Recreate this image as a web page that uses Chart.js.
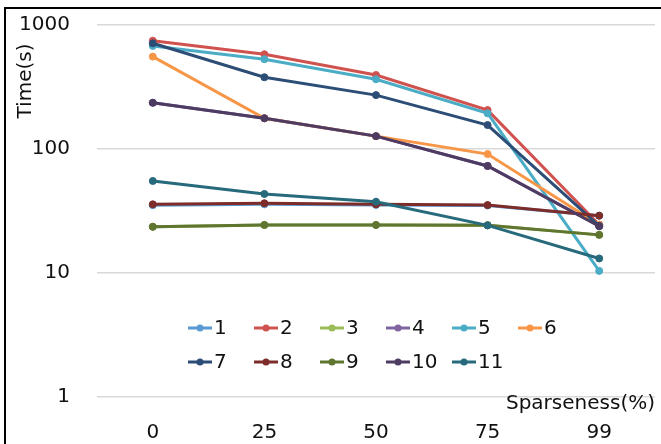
<!DOCTYPE html>
<html>
<head>
<meta charset="utf-8">
<script src="https://cdn.jsdelivr.net/npm/chart.js@4"></script>
<style>
  html, body { margin: 0; padding: 0; background: #fff; }
  #wrap { position: relative; width: 661px; height: 444px; }
</style>
</head>
<body>
<div id="wrap"><canvas id="chart" width="661" height="444"></canvas></div>
<script>
// categories and tick values
const sparseness = ['0', '25', '50', '75', '99'];
const timeTicks = [1, 10, 100, 1000];
const seriesNames = ['1', '2', '3', '4', '5', '6', '7', '8', '9', '10', '11'];

// time in seconds per series
const s1 = [35.2, 35.8, 35.4, 35, 29];
const s2 = [747, 581, 395, 206, 24.5];
const s3 = [23.6, 24.4, 24.4, 24.3, 20.3];
const s4 = [236, 177, 127, 73, 24];
const s5 = [678, 530, 365, 194, 10.4];
const s6 = [556, 177, 127, 91, 24.5];
const s7 = [712, 379, 272, 156, 24];
const s8 = [35.8, 36.5, 35.8, 35.3, 29];
const s9 = [23.6, 24.4, 24.4, 24.3, 20.3];
const s10 = [236, 177, 127, 73, 23.8];
const s11 = [55.2, 43.4, 37.6, 24.2, 13.1];

const seriesValues = [s1, s2, s3, s4, s5, s6, s7, s8, s9, s10, s11];
const seriesColors = ['#5B9BD5', '#D0524E', '#9BBB59', '#8064A2', '#4BACC6', '#F79646',
                      '#2C4D75', '#7D2C2A', '#5F7530', '#4D3B62', '#276A7C'];

const FONT = 'DejaVu Sans';
Chart.defaults.font.family = FONT;
Chart.defaults.font.size = 20;
Chart.defaults.color = '#111';

const datasets = seriesValues.map((vals, i) => ({
    label: seriesNames[i],
    data: vals,
    borderColor: seriesColors[i],
    backgroundColor: seriesColors[i],
    borderWidth: 3,
    pointRadius: 3.5,
    pointBorderWidth: 1,
    tension: 0,
    order: seriesValues.length - i
}));

// white page, frame, axis title, x label and the legend inside the plot
const extras = {
    id: 'extras',
    beforeDraw(chart) {
        const ctx = chart.ctx;
        ctx.save();
        ctx.fillStyle = '#fff';
        ctx.fillRect(0, 0, chart.width, chart.height);
        ctx.restore();
    },
    afterDraw(chart) {
        const ctx = chart.ctx;
        ctx.save();
        ctx.strokeStyle = '#000';
        ctx.lineWidth = 2;
        ctx.beginPath();
        ctx.moveTo(5, chart.height);
        ctx.lineTo(5, 8);
        ctx.lineTo(chart.width, 8);
        ctx.stroke();

        ctx.fillStyle = '#111';
        ctx.font = '20px "' + FONT + '"';
        ctx.textBaseline = 'middle';

        ctx.save();
        ctx.translate(26, 81);
        ctx.rotate(-Math.PI / 2);
        ctx.textAlign = 'center';
        ctx.fillText('Time(s)', 0, 0);
        ctx.restore();

        ctx.textAlign = 'right';
        ctx.fillText('Sparseness(%)', 655, 404);

        ctx.textAlign = 'left';
        chart.data.datasets.forEach((ds, i) => {
            const row = i < 6 ? 0 : 1;
            const col = i % 6;
            const x0 = 188 + col * 66;
            const y = 328 + row * 34;
            ctx.strokeStyle = ds.borderColor;
            ctx.lineWidth = 3;
            ctx.beginPath();
            ctx.moveTo(x0, y);
            ctx.lineTo(x0 + 24, y);
            ctx.stroke();
            ctx.fillStyle = ds.borderColor;
            ctx.beginPath();
            ctx.arc(x0 + 12, y, 3.5, 0, Math.PI * 2);
            ctx.fill();
            ctx.fillStyle = '#111';
            ctx.fillText(ds.label, x0 + 26, y + 1);
        });
        ctx.restore();
    }
};

new Chart(document.getElementById('chart'), {
    type: 'line',
    data: { labels: sparseness, datasets: datasets },
    options: {
        responsive: false,
        animation: false,
        devicePixelRatio: 1,
        layout: { padding: { left: 0, right: 6, top: 25, bottom: 0 } },
        plugins: {
            legend: { display: false },
            title: { display: false },
            tooltip: { enabled: false }
        },
        scales: {
            x: {
                type: 'category',
                offset: true,
                grid: { display: false, drawTicks: false },
                border: { display: false },
                ticks: { padding: 24, font: { size: 20 }, maxRotation: 0 },
                afterFit(scale) {
                    scale.height = 47;
                    scale.paddingLeft = 0;
                    scale.paddingRight = 0;
                }
            },
            y: {
                type: 'logarithmic',
                min: 1,
                max: 1000,
                grid: { color: '#D9D9D9', lineWidth: 1.5, drawTicks: false },
                border: { display: false },
                ticks: {
                    padding: 27,
                    font: { size: 20 },
                    callback: (v) => String(v)
                },
                afterBuildTicks(scale) {
                    scale.ticks = timeTicks.map(v => ({ value: v }));
                },
                afterFit(scale) {
                    scale.width = 97;
                    scale.paddingTop = 0;
                    scale.paddingBottom = 0;
                }
            }
        }
    },
    plugins: [extras]
});
</script>
</body>
</html>
